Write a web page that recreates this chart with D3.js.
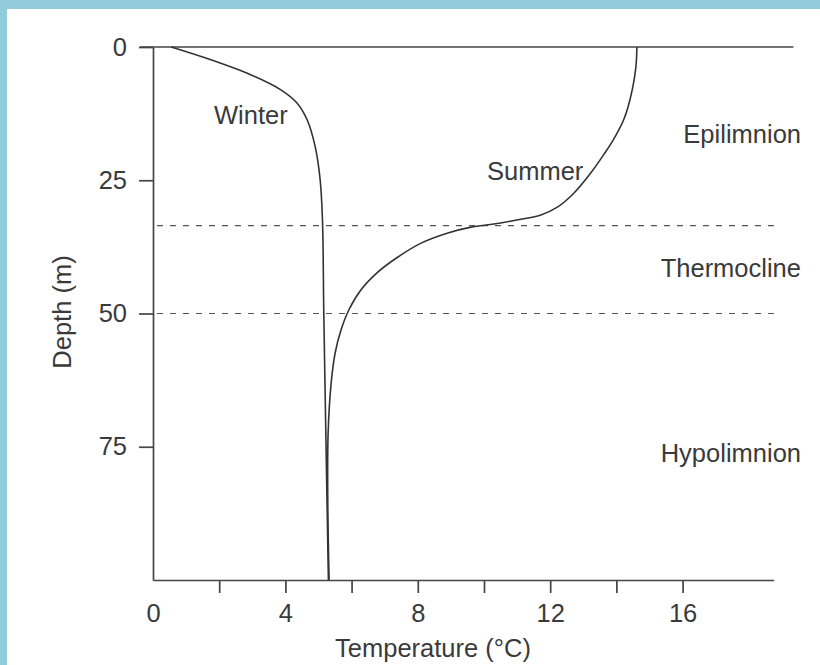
<!DOCTYPE html>
<html>
<head>
<meta charset="utf-8">
<script src="https://cdn.jsdelivr.net/npm/d3@7"></script>
<style>
  html, body { margin: 0; padding: 0; background: #ffffff; }
  svg { display: block; }
  text { font-family: "Liberation Sans", Arial, Helvetica, sans-serif; fill: #3a3a3a; }
</style>
</head>
<body>
<svg id="chart" width="820" height="665"></svg>
<script>
// Lake temperature profiles: depth (m) against temperature (°C)
const winterDepth = [0, 2.4, 5.2, 8, 10.5, 13.7, 18.7, 24.9, 32.4, 50, 72, 100];
const winterTemp  = [0.55, 1.75, 2.95, 3.85, 4.35, 4.66, 4.9, 5.05, 5.12, 5.16, 5.22, 5.3];

const summerDepth = [0, 3, 5.6, 8, 11.3, 13.5, 15.6, 17.8, 19.9, 23.6, 27.4, 30, 31.5, 32.5, 33.2, 33.8, 34.9, 36.8, 39.4, 42.2, 45.6, 49.3, 53.1, 57.5, 63.2, 72.6, 85, 100];
const summerTemp  = [14.62, 14.6, 14.55, 14.48, 14.35, 14.23, 14.07, 13.87, 13.65, 13.23, 12.72, 12.23, 11.72, 10.95, 10.3, 9.61, 8.91, 8.1, 7.4, 6.8, 6.28, 5.92, 5.68, 5.5, 5.38, 5.29, 5.28, 5.32];

const layerBounds = [33.5, 50];              // dashed boundaries of the thermocline
const layerNames  = ["Epilimnion", "Thermocline", "Hypolimnion"];
const layerLabelDepth = [18, 43.2, 77.9];

const yTicks = [0, 25, 50, 75];
const xTicks = [0, 2, 4, 6, 8, 10, 12, 14, 16];

const curveNames = ["Winter", "Summer"];

const fontSize = "25.5px";

const svg = d3.select("#chart");

// page frame
svg.append("rect").attr("x", 0).attr("y", 0).attr("width", 820).attr("height", 665).attr("fill", "#ffffff");
svg.append("rect").attr("x", 0).attr("y", 0).attr("width", 820).attr("height", 9).attr("fill", "#91cbdc");
svg.append("rect").attr("x", 0).attr("y", 0).attr("width", 7).attr("height", 665).attr("fill", "#91cbdc");

const x = d3.scaleLinear().domain([0, 18.75]).range([153, 773.6]);
const y = d3.scaleLinear().domain([0, 100]).range([47, 580]);

const axisColor = "#454545";
const lineColor = "#333333";

// y axis (depth)
const yAxis = svg.append("g")
  .attr("transform", `translate(${x(0)},0)`)
  .call(d3.axisLeft(y).tickValues(yTicks).tickSize(14).tickSizeOuter(0).tickPadding(12));
yAxis.select(".domain").attr("stroke", axisColor).attr("stroke-width", 1.7);
yAxis.selectAll(".tick line").attr("stroke", axisColor).attr("stroke-width", 1.7);
yAxis.selectAll(".tick text")
  .style("font-size", fontSize).attr("fill", "#3a3a3a")
  .style("font-family", "'Liberation Sans', Arial, sans-serif");

// x axis (temperature)
const xAxis = svg.append("g")
  .attr("transform", `translate(0,${y(100)})`)
  .call(d3.axisBottom(x).tickValues(xTicks).tickSize(13).tickSizeOuter(0).tickPadding(11)
    .tickFormat(d => d % 4 === 0 ? d : ""));
xAxis.select(".domain").attr("stroke", axisColor).attr("stroke-width", 1.7);
xAxis.selectAll(".tick line").attr("stroke", axisColor).attr("stroke-width", 1.7)
  .attr("display", d => d === 0 ? "none" : null);
xAxis.selectAll(".tick text")
  .style("font-size", fontSize).attr("fill", "#3a3a3a")
  .style("font-family", "'Liberation Sans', Arial, sans-serif");

// lake surface line
svg.append("line")
  .attr("x1", 140).attr("x2", x(19.35))
  .attr("y1", y(0)).attr("y2", y(0))
  .attr("stroke", axisColor).attr("stroke-width", 1.7);

// layer boundaries
svg.selectAll(".bound").data(layerBounds).enter().append("line")
  .attr("class", "bound")
  .attr("x1", x(0.12)).attr("x2", x(18.95))
  .attr("y1", d => y(d)).attr("y2", d => y(d))
  .attr("stroke", "#555").attr("stroke-width", 1.2)
  .attr("stroke-dasharray", "6,7");

// profiles
const line = d3.line()
  .x(d => x(d.t)).y(d => y(d.z))
  .curve(d3.curveCatmullRom.alpha(0.5));

const winter = winterDepth.map((z, i) => ({ z, t: winterTemp[i] }));
const summer = summerDepth.map((z, i) => ({ z, t: summerTemp[i] }));

[winter, summer].forEach(data => {
  svg.append("path").datum(data)
    .attr("d", line)
    .attr("fill", "none")
    .attr("stroke", lineColor)
    .attr("stroke-width", 1.6);
});

// curve labels
svg.append("text").attr("x", 214).attr("y", 124).style("font-size", fontSize).text(curveNames[0]);
svg.append("text").attr("x", 487).attr("y", 180).style("font-size", fontSize).text(curveNames[1]);

// layer labels
svg.selectAll(".layer").data(layerNames).enter().append("text")
  .attr("class", "layer")
  .attr("x", 801)
  .attr("y", (d, i) => y(layerLabelDepth[i]))
  .attr("text-anchor", "end")
  .style("font-size", fontSize)
  .text(d => d);

// axis titles
svg.append("text")
  .attr("x", 433).attr("y", 657)
  .attr("text-anchor", "middle")
  .style("font-size", fontSize)
  .text("Temperature (°C)");

svg.append("text")
  .attr("transform", "translate(71,312) rotate(-90)")
  .attr("text-anchor", "middle")
  .style("font-size", fontSize)
  .text("Depth (m)");
</script>
</body>
</html>
